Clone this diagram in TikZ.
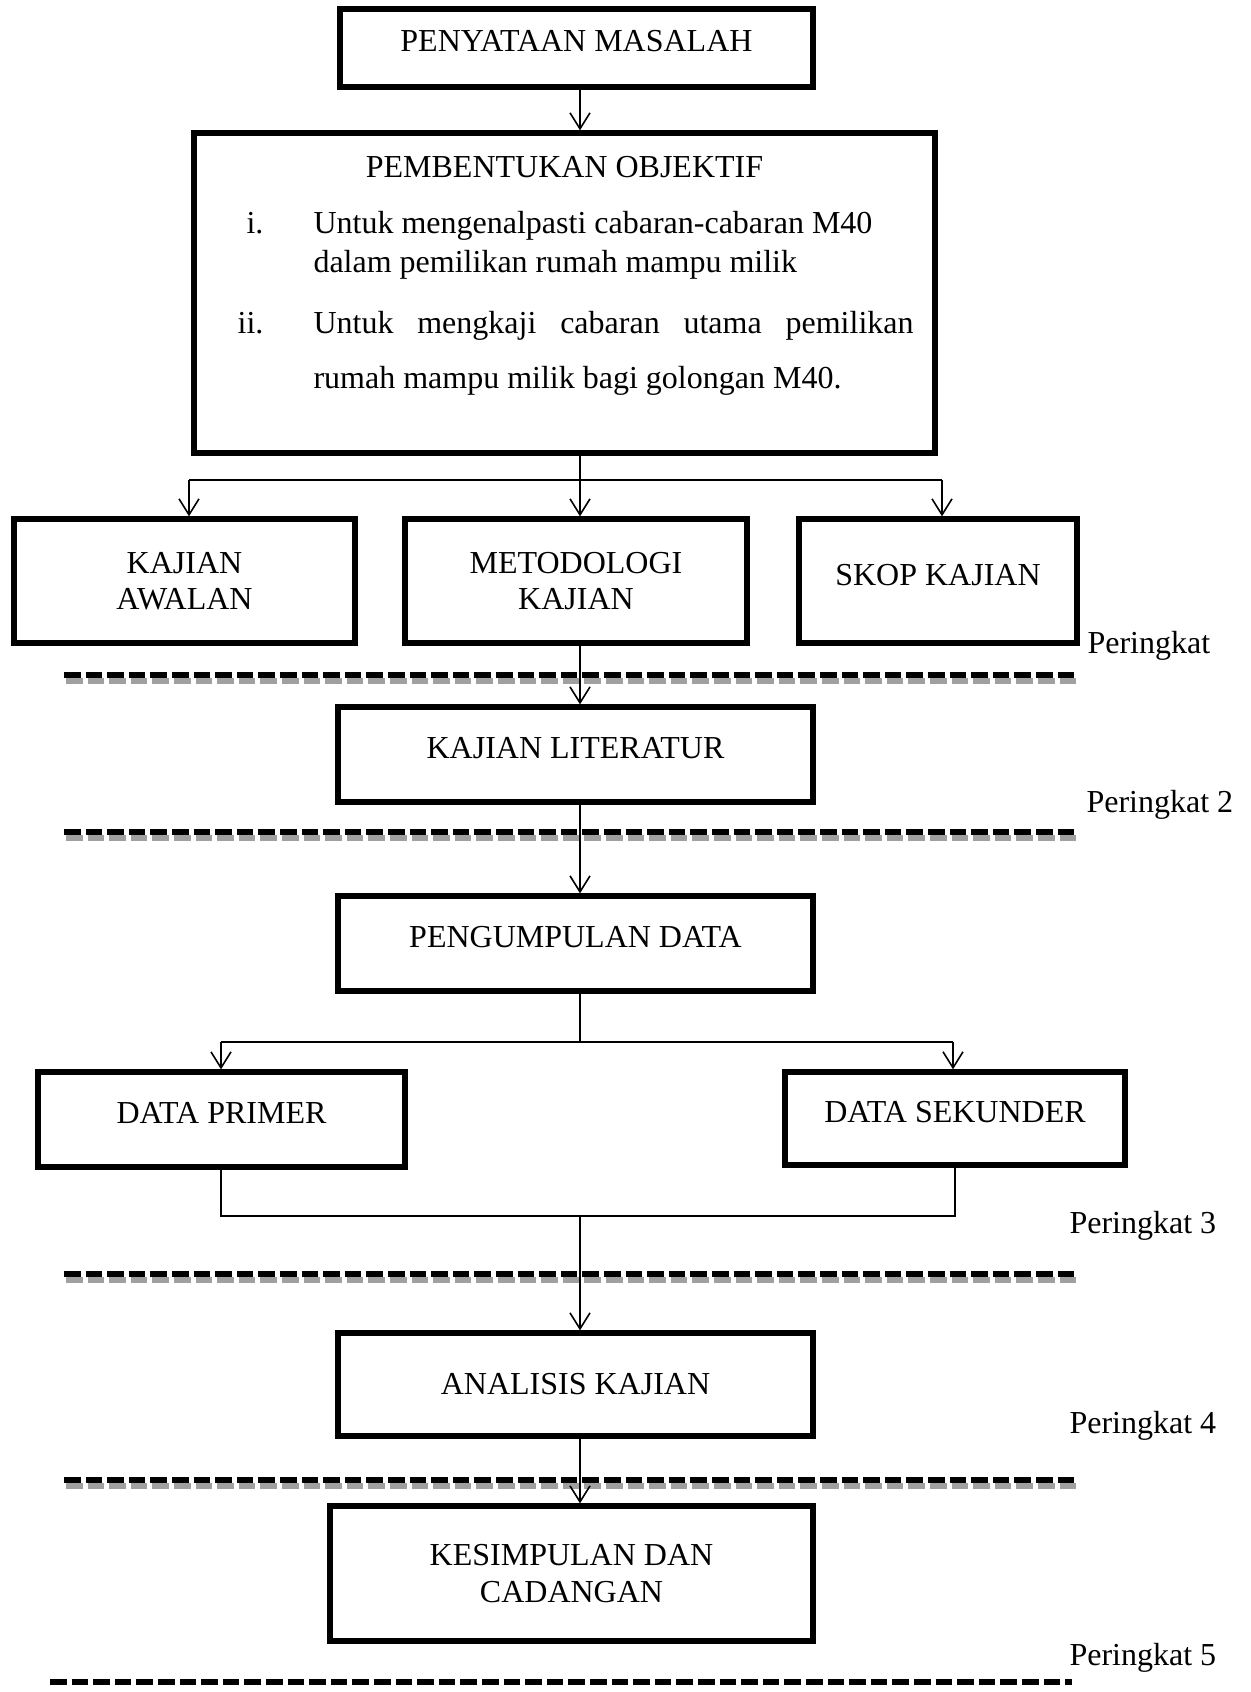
\documentclass[tikz,border=0pt]{standalone}
\usepackage{fontspec}
\setmainfont{Liberation Serif}
\usetikzlibrary{arrows.meta}
\definecolor{shade}{HTML}{A0A0A0}
\begin{document}
\begin{tikzpicture}[x=0.375pt,y=-0.375pt,
  box/.style={draw, line width=2pt, rectangle, inner sep=0pt, align=center, font=\fontsize{12}{13.6}\selectfont},
  onel/.style={text height=8pt, text depth=5pt},
  conn/.style={line width=0.6pt},
  arr/.style={conn, -{Straight Barb[length=6pt,width=7.5pt]}},
  lvl/.style={font=\fontsize{12}{14}\selectfont, anchor=base west, inner sep=0pt},
  itm/.style={font=\fontsize{12}{14}\selectfont, inner sep=0pt},
  dashblk/.style={line width=1.9pt, dash pattern=on 6.2pt off 1.9pt},
  dashgry/.style={dashblk, draw=shade}]
\useasboundingbox (0,0) rectangle (1250,1692);

% boxes
\node[box, onel, minimum width=177.4pt, minimum height=29.25pt] (pm) at (576.5,48) {PENYATAAN MASALAH};
\node[box, minimum width=277.9pt, minimum height=120pt] (obj) at (564.5,293) {};
\node[itm, anchor=base] (title) at (564.5,177) {PEMBENTUKAN OBJEKTIF};
\node[itm, anchor=base east] (n1) at (264,233) {i.};
\node[itm, anchor=base west] (l1) at (313,233) {Untuk mengenalpasti cabaran-cabaran M40};
\node[itm, anchor=base west] (l2) at (313,272) {dalam pemilikan rumah mampu milik};
\node[itm, anchor=base east] (n2) at (264,333) {ii.};
\node[itm, anchor=base west] (l3) at (313,333) {\makebox[225pt][s]{Untuk mengkaji cabaran utama pemilikan}};
\node[itm, anchor=base west] (l4) at (313,388) {rumah mampu milik bagi golongan M40.};

\node[box, minimum width=127.9pt, minimum height=46.5pt] (ka) at (184.5,581) {KAJIAN\\AWALAN};
\node[box, minimum width=128.25pt, minimum height=46.5pt] (mk) at (576,581) {METODOLOGI\\KAJIAN};
\node[box, onel, minimum width=104.25pt, minimum height=46.5pt] (sk) at (938,581) {SKOP KAJIAN};
\node[box, onel, minimum width=178.1pt, minimum height=35.6pt] (kl) at (575.5,754.5) {KAJIAN LITERATUR};
\node[box, onel, minimum width=178.1pt, minimum height=35.6pt] (pd) at (575.5,943.5) {PENGUMPULAN DATA};
\node[box, onel, minimum width=137.6pt, minimum height=35.6pt] (dp) at (221.5,1119.5) {DATA PRIMER};
\node[box, onel, minimum width=127.5pt, minimum height=34.9pt] (ds) at (955,1118.5) {DATA SEKUNDER};
\node[box, minimum width=178.1pt, minimum height=38.6pt] (ak) at (575.5,1384.5) {ANALISIS KAJIAN};
\node[box, minimum width=181.1pt, minimum height=50.6pt] (kc) at (571.5,1573.5) {KESIMPULAN DAN\\CADANGAN};

% level labels
\node[lvl] (p1) at (1087,653) {Peringkat};
\node[lvl] (p2) at (1086,812) {Peringkat 2};
\node[lvl] (p3) at (1069,1233) {Peringkat 3};
\node[lvl] (p4) at (1069,1433) {Peringkat 4};
\node[lvl] (p5) at (1069,1665) {Peringkat 5};

% dashed separators
\foreach \yy/\nm in {675/d1, 832/d2, 1274/d3, 1480/d4}{
  \coordinate (\nm a) at (64,\yy);
  \coordinate (\nm b) at (1079,\yy);
  \draw[dashgry] ([shift={(2,6)}]\nm a) -- ([shift={(2,6)}]\nm b);
  \draw[dashblk] (\nm a) -- (\nm b);
}
\coordinate (d5a) at (50,1682);
\coordinate (d5b) at (1072,1682);
\draw[dashblk] (d5a) -- (d5b);

% connectors
\coordinate (xm) at (580,0);
\draw[arr] (pm.south -| xm) -- (obj.north -| xm);
\coordinate (s1) at (580,480);
\coordinate (s1l) at (189,480);
\coordinate (s1r) at (942,480);
\draw[conn] (obj.south -| s1) -- (s1);
\draw[conn] (s1l) -- (s1r);
\draw[arr] (s1l) -- (ka.north -| s1l);
\draw[arr] (s1) -- (mk.north -| s1);
\draw[arr] (s1r) -- (sk.north -| s1r);
\draw[arr] (mk.south -| xm) -- (kl.north -| xm);
\draw[arr] (kl.south -| xm) -- (pd.north -| xm);
\coordinate (s2) at (580,1042);
\coordinate (s2l) at (221,1042);
\coordinate (s2r) at (953,1042);
\draw[conn] (pd.south -| s2) -- (s2);
\draw[conn] (s2l) -- (s2r);
\draw[arr] (s2l) -- (dp.north -| s2l);
\draw[arr] (s2r) -- (ds.north -| s2r);
\coordinate (j) at (580,1216);
\coordinate (jl) at (221,1216);
\coordinate (jr) at (955,1216);
\draw[conn] (dp.south -| jl) -- (jl) -- (jr) -- (ds.south -| jr);
\draw[arr] (j) -- (ak.north -| j);
\draw[arr] (ak.south -| xm) -- (kc.north -| xm);
\end{tikzpicture}
\end{document}
